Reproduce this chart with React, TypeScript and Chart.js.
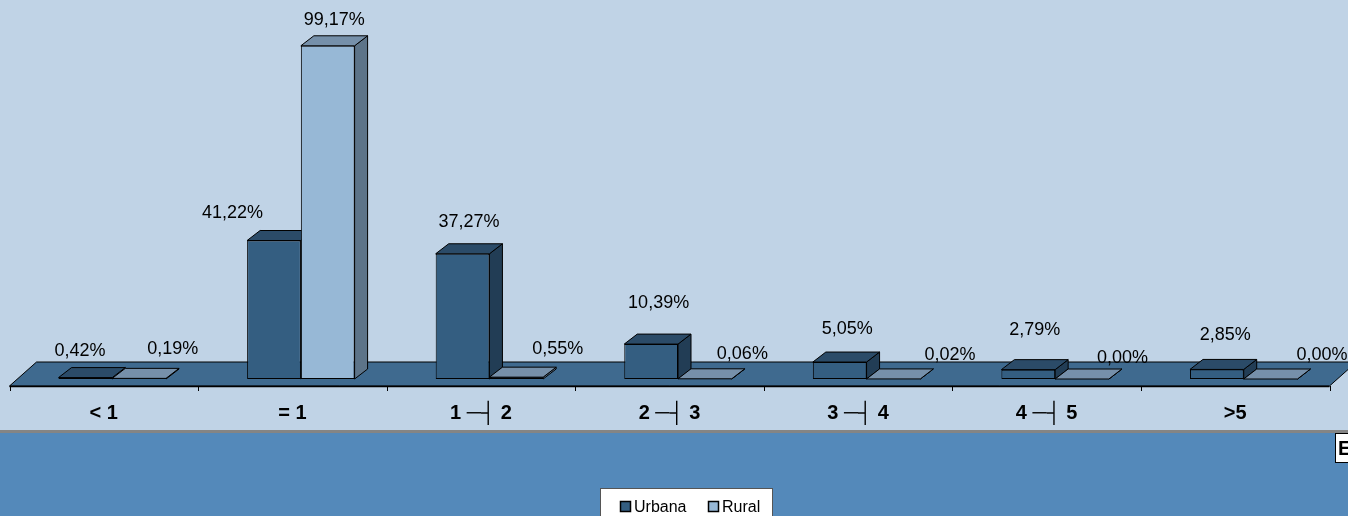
import { useEffect, useRef } from 'react';
import { Chart, registerables } from 'chart.js';

Chart.register(...registerables);

// ---------- data ----------
const CATEGORIES = ['< 1', '= 1', '1 ─┤ 2', '2 ─┤ 3', '3 ─┤ 4', '4 ─┤ 5', '>5'];
const SERIES_NAMES = ['Urbana', 'Rural'];
const URBANA = [0.42, 41.22, 37.27, 10.39, 5.05, 2.79, 2.85];
const RURAL = [0.19, 99.17, 0.55, 0.06, 0.02, 0.0, 0.0];
// label nudges (px) relative to the default position above each bar
const URBANA_LABEL_NUDGE = [[-12, 2], [-48, 1], [0, -3], [1, -13], [1, -5], [0, -11], [2, -6]];
const RURAL_LABEL_NUDGE = [[27, -1], [0, 3], [35, 0], [31, 4], [50, 5], [34, 7], [45, 4]];

// ---------- style ----------
const W = 1348;
const H = 516;
const FONT = '"Liberation Sans", Arial, sans-serif';
const BG_TOP = '#C0D3E6';
const BG_BOTTOM = '#5489BA';
const SEP = '#858585';
const FLOOR = '#3F6A8F';
const FACES = [
  { front: '#345E81', top: '#2B4B68', side: '#223D55' },
  { front: '#97B8D6', top: '#7690AA', side: '#5D7489' },
];
const BAR_FRONT = { dx: 8.5, dy: 7 }; // bar front plane offset from floor front edge
const BAR_DEPTH = { dx: 13, dy: 10 };
const FLOOR_DEPTH = { dx: 27, dy: 24 };

function poly(ctx: CanvasRenderingContext2D, pts: number[][], fill: string) {
  ctx.beginPath();
  ctx.moveTo(pts[0][0], pts[0][1]);
  for (let i = 1; i < pts.length; i++) ctx.lineTo(pts[i][0], pts[i][1]);
  ctx.closePath();
  ctx.fillStyle = fill;
  ctx.fill();
  ctx.strokeStyle = '#000';
  ctx.lineWidth = 1;
  ctx.stroke();
}

const scenePlugin = {
  id: 'scene3d',
  beforeDraw(chart: any) {
    const ctx = chart.ctx as CanvasRenderingContext2D;
    ctx.save();
    ctx.fillStyle = BG_TOP;
    ctx.fillRect(0, 0, W, 430);
    ctx.fillStyle = SEP;
    ctx.fillRect(0, 430, W, 3);
    ctx.fillStyle = BG_BOTTOM;
    ctx.fillRect(0, 433, W, H - 433);
    ctx.restore();
  },
  beforeDatasetsDraw(chart: any) {
    const ctx = chart.ctx as CanvasRenderingContext2D;
    const { left, right, bottom } = chart.chartArea;
    const fy = bottom + BAR_FRONT.dy;
    const fl = left - BAR_FRONT.dx;
    const fr = right - BAR_FRONT.dx;
    ctx.save();
    // floor
    poly(
      ctx,
      [
        [fl, fy],
        [fr, fy],
        [fr + FLOOR_DEPTH.dx, fy - FLOOR_DEPTH.dy],
        [fl + FLOOR_DEPTH.dx, fy - FLOOR_DEPTH.dy],
      ],
      FLOOR
    );
    // axis line + ticks
    const n = CATEGORIES.length;
    const step = (fr - fl) / n;
    ctx.strokeStyle = '#000';
    ctx.lineWidth = 1.5;
    ctx.beginPath();
    ctx.moveTo(fl, fy + 0.5);
    ctx.lineTo(fr, fy + 0.5);
    ctx.stroke();
    ctx.lineWidth = 1;
    for (let i = 0; i <= n; i++) {
      const x = Math.round(fl + i * step) + 0.5;
      ctx.beginPath();
      ctx.moveTo(x, fy);
      ctx.lineTo(x, fy + 5);
      ctx.stroke();
    }
    // category labels
    ctx.fillStyle = '#000';
    ctx.font = 'bold 20px ' + FONT;
    ctx.textAlign = 'center';
    ctx.textBaseline = 'alphabetic';
    for (let i = 0; i < n; i++) {
      ctx.fillText(CATEGORIES[i], fl + (i + 0.5) * step, 419);
    }
    // top and side faces of every bar (fronts are drawn by Chart.js afterwards)
    const metas = chart.data.datasets.map((_: any, d: number) => chart.getDatasetMeta(d));
    for (let i = 0; i < n; i++) {
      metas.forEach((meta: any, d: number) => {
        const el = meta.data[i];
        if (!el) return;
        const l = el.x - el.width / 2;
        const r = el.x + el.width / 2;
        const t = Math.min(el.y, el.base);
        const b = el.base;
        poly(
          ctx,
          [
            [r, t],
            [r + BAR_DEPTH.dx, t - BAR_DEPTH.dy],
            [r + BAR_DEPTH.dx, b - BAR_DEPTH.dy],
            [r, b],
          ],
          FACES[d].side
        );
        poly(
          ctx,
          [
            [l, t],
            [r, t],
            [r + BAR_DEPTH.dx, t - BAR_DEPTH.dy],
            [l + BAR_DEPTH.dx, t - BAR_DEPTH.dy],
          ],
          FACES[d].top
        );
      });
    }
    ctx.restore();
  },
  afterDatasetsDraw(chart: any) {
    const ctx = chart.ctx as CanvasRenderingContext2D;
    ctx.save();
    ctx.font = '18px ' + FONT;
    ctx.fillStyle = '#000';
    ctx.textAlign = 'center';
    ctx.textBaseline = 'alphabetic';
    chart.data.datasets.forEach((ds: any, d: number) => {
      const meta = chart.getDatasetMeta(d);
      const nudges = d === 0 ? URBANA_LABEL_NUDGE : RURAL_LABEL_NUDGE;
      meta.data.forEach((el: any, i: number) => {
        const v = ds.data[i] as number;
        const txt = v.toFixed(2).replace('.', ',') + '%';
        const x = el.x + BAR_DEPTH.dx / 2 + nudges[i][0];
        const y = el.y - 30 + nudges[i][1] + 6.5;
        ctx.fillText(txt, x, y);
      });
    });
    ctx.restore();
  },
  afterDraw(chart: any) {
    const ctx = chart.ctx as CanvasRenderingContext2D;
    ctx.save();
    // legend
    ctx.fillStyle = '#fff';
    ctx.fillRect(600.5, 488.5, 172, 40);
    ctx.strokeStyle = '#555';
    ctx.lineWidth = 1;
    ctx.strokeRect(600.5, 488.5, 172, 40);
    const items = [
      { sx: 620.5, tx: 634 },
      { sx: 708.5, tx: 722 },
    ];
    ctx.font = '16px ' + FONT;
    ctx.textAlign = 'left';
    ctx.textBaseline = 'alphabetic';
    chart.data.datasets.forEach((ds: any, d: number) => {
      const it = items[d];
      ctx.fillStyle = FACES[d].front;
      ctx.fillRect(it.sx, 501.5, 10, 10);
      ctx.strokeStyle = '#000';
      ctx.lineWidth = 1.5;
      ctx.strokeRect(it.sx, 501.5, 10, 10);
      ctx.fillStyle = '#000';
      ctx.fillText(ds.label, it.tx, 511.5);
    });
    // clipped title box at right edge
    ctx.fillStyle = '#fff';
    ctx.fillRect(1335.5, 433.5, 30, 29);
    ctx.strokeStyle = '#000';
    ctx.lineWidth = 1;
    ctx.strokeRect(1335.5, 433.5, 30, 29);
    ctx.fillStyle = '#000';
    ctx.font = 'bold 20px ' + FONT;
    ctx.fillText('E', 1338, 455);
    ctx.restore();
  },
};

export default function App() {
  const ref = useRef<HTMLCanvasElement | null>(null);
  useEffect(() => {
    if (!ref.current) return;
    const chart = new Chart(ref.current, {
      type: 'bar',
      data: {
        labels: CATEGORIES,
        datasets: [
          {
            label: SERIES_NAMES[0],
            data: URBANA,
            backgroundColor: FACES[0].front,
            borderColor: '#000',
            borderWidth: 1,
            borderSkipped: false,
            categoryPercentage: 0.57,
            barPercentage: 1,
          },
          {
            label: SERIES_NAMES[1],
            data: RURAL,
            backgroundColor: FACES[1].front,
            borderColor: '#000',
            borderWidth: 1,
            borderSkipped: false,
            categoryPercentage: 0.57,
            barPercentage: 1,
          },
        ],
      },
      options: {
        responsive: false,
        animation: false,
        devicePixelRatio: 1,
        layout: { padding: { left: 18, right: 10, top: 43, bottom: 137 } },
        plugins: {
          legend: { display: false },
          tooltip: { enabled: false },
          title: { display: false },
        },
        scales: {
          x: { display: false },
          y: { display: false, min: 0, max: 100 },
        },
      },
      plugins: [scenePlugin],
    });
    return () => chart.destroy();
  }, []);
  return (
    <div style={{ position: 'fixed', left: 0, top: 0, width: W, height: H }}>
      <canvas ref={ref} width={W} height={H} style={{ display: 'block', width: W, height: H }} />
    </div>
  );
}
